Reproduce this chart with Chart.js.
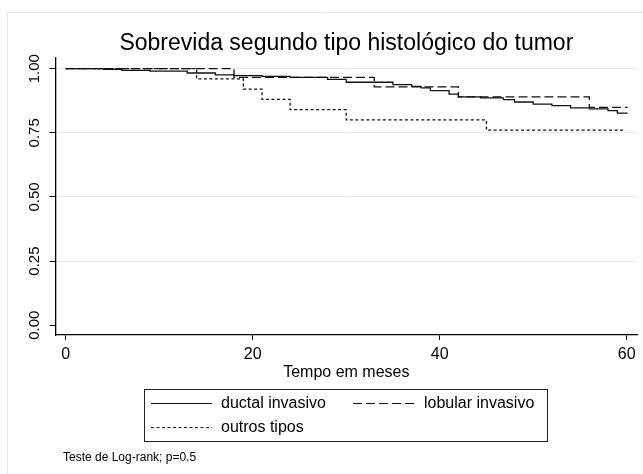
<!DOCTYPE html>
<html>
<head>
<meta charset="utf-8">
<script src="https://cdn.jsdelivr.net/npm/chart.js@4/dist/chart.umd.min.js"></script>
<style>
  html, body { margin: 0; padding: 0; background: #fff; }
  #c { display: block; }
</style>
</head>
<body>
<canvas id="c" width="643" height="474"></canvas>
<script>
// Kaplan-Meier estimates (time in months, survival)
const ductalTimes = [0, 4, 6, 9, 13, 16, 18, 21, 24, 28, 30, 35, 37, 38, 39, 41, 42, 44.4, 46.8, 48, 50, 52, 54, 56, 58, 59, 60.1];
const ductalSurv  = [1, 0.997, 0.993, 0.99, 0.983, 0.976, 0.973, 0.97, 0.966, 0.958, 0.947, 0.938, 0.931, 0.925, 0.914, 0.901, 0.89, 0.886, 0.879, 0.87, 0.862, 0.856, 0.847, 0.843, 0.836, 0.827, 0.827];

const lobularTimes = [0, 18, 33, 42, 56, 60.1];
const lobularSurv  = [1, 0.966, 0.929, 0.89, 0.849, 0.849];

const outrosTimes = [0, 14, 19, 21, 24, 30, 45, 59.9];
const outrosSurv  = [1, 0.96, 0.92, 0.88, 0.84, 0.80, 0.76, 0.76];

const seriesNames = ['ductal invasivo', 'lobular invasivo', 'outros tipos'];
const xTicks = [0, 20, 40, 60];
const yTicks = [0, 0.25, 0.5, 0.75, 1];

const FONT = "'Liberation Sans', Arial, Helvetica, sans-serif";
const dashes = [[], [9, 4], [3, 2.5]];

function zip(xs, ys) {
  return xs.map((x, i) => ({ x: x, y: ys[i] }));
}

// legend box, footnote and outer frame (Stata style)
const extras = {
  id: 'extras',
  afterDraw(chart) {
    const ctx = chart.ctx;
    ctx.save();
    // graph region frame
    ctx.strokeStyle = '#e8e8e8';
    ctx.lineWidth = 1;
    ctx.setLineDash([]);
    ctx.beginPath();
    ctx.moveTo(7.5, 474);
    ctx.lineTo(7.5, 12.5);
    ctx.lineTo(643, 12.5);
    ctx.stroke();

    // legend
    ctx.strokeStyle = '#222';
    ctx.strokeRect(144.5, 389.5, 403, 52);
    const rows = [
      { x: 151, y: 403, tx: 221 },
      { x: 353, y: 403, tx: 424 },
      { x: 151, y: 427, tx: 221 }
    ];
    ctx.font = '16px ' + FONT;
    ctx.fillStyle = '#000';
    ctx.textBaseline = 'middle';
    ctx.textAlign = 'left';
    rows.forEach((r, i) => {
      ctx.beginPath();
      ctx.setLineDash(dashes[i]);
      ctx.lineWidth = 1.2;
      ctx.strokeStyle = '#111';
      ctx.moveTo(r.x, r.y + 0.5);
      ctx.lineTo(r.x + 61, r.y + 0.5);
      ctx.stroke();
      ctx.fillText(seriesNames[i], r.tx, r.y + 1);
    });
    ctx.setLineDash([]);

    // note
    ctx.font = '12px ' + FONT;
    ctx.fillText('Teste de Log-rank; p=0.5', 63, 458);
    ctx.restore();
  }
};

new Chart(document.getElementById('c'), {
  type: 'line',
  data: {
    datasets: [
      { label: seriesNames[0], data: zip(ductalTimes, ductalSurv), borderDash: dashes[0] },
      { label: seriesNames[1], data: zip(lobularTimes, lobularSurv), borderDash: dashes[1] },
      { label: seriesNames[2], data: zip(outrosTimes, outrosSurv), borderDash: dashes[2] }
    ].map(d => Object.assign(d, {
      stepped: true,
      borderColor: '#111',
      borderWidth: 1.3,
      pointRadius: 0,
      fill: false
    }))
  },
  options: {
    responsive: false,
    animation: false,
    layout: { autoPadding: false, padding: { left: 0, right: 6, top: 0, bottom: 92 } },
    scales: {
      x: {
        type: 'linear',
        min: -1.07,
        max: 61.1,
        afterBuildTicks: s => { s.ticks = xTicks.map(v => ({ value: v })); },
        afterFit: s => { s.height = 474 - 335 - 92; },
        grid: { drawOnChartArea: false, drawTicks: true, tickLength: 5, tickColor: '#000', tickWidth: 1 },
        border: { display: true, color: '#000', width: 1.3 },
        ticks: { color: '#000', font: { family: FONT, size: 16 }, padding: 5, maxRotation: 0 },
        title: { display: true, text: 'Tempo em meses', color: '#000', font: { family: FONT, size: 16 }, padding: 0 }
      },
      y: {
        min: -0.038,
        max: 1.043,
        afterBuildTicks: s => { s.ticks = yTicks.map(v => ({ value: v })); },
        afterFit: s => { s.width = 55.7; },
        grid: {
          color: c => (c.tick && c.tick.value === 0) ? 'rgba(0,0,0,0)' : '#e8e8e8',
          tickColor: '#000',
          tickLength: 6,
          lineWidth: 1
        },
        border: { display: true, color: '#000', width: 1.3 },
        ticks: {
          color: '#000',
          font: { family: FONT, size: 15 },
          minRotation: 90,
          maxRotation: 90,
          crossAlign: 'center',
          padding: 0,
          callback: v => v.toFixed(2)
        }
      }
    },
    plugins: {
      legend: { display: false },
      tooltip: { enabled: false },
      title: {
        display: true,
        fullSize: false, // centre over the plot area, as Stata does
        text: 'Sobrevida segundo tipo histológico do tumor',
        color: '#000',
        font: { family: FONT, size: 23, weight: 'normal' },
        padding: { top: 30, bottom: 0 }
      }
    }
  },
  plugins: [extras]
});
</script>
</body>
</html>
